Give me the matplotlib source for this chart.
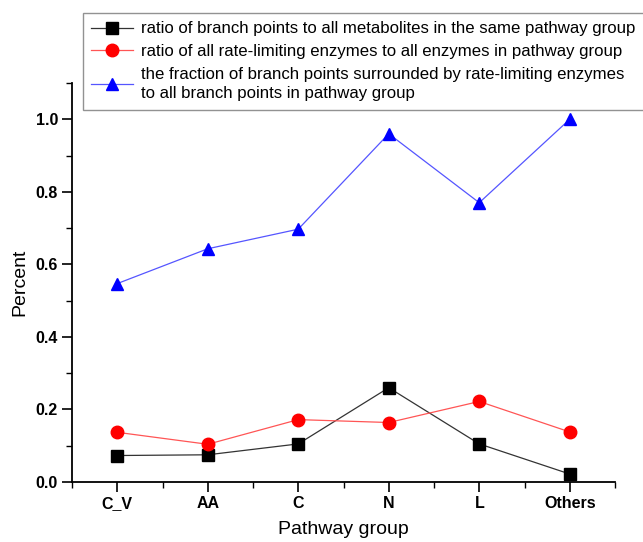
import matplotlib
matplotlib.use("Agg")
import matplotlib.pyplot as plt
from matplotlib.ticker import MultipleLocator

plt.rcParams['font.family'] = ['Liberation Sans', 'DejaVu Sans']

categories = ["C_V", "AA", "C", "N", "L", "Others"]
branch_ratio = [0.073, 0.075, 0.105, 0.260, 0.105, 0.022]
enzyme_ratio = [0.137, 0.104, 0.172, 0.164, 0.222, 0.138]
fraction_surrounded = [0.547, 0.643, 0.697, 0.960, 0.770, 1.000]

labels = [
    "ratio of branch points to all metabolites in the same pathway group",
    "ratio of all rate-limiting enzymes to all enzymes in pathway group",
    "the fraction of branch points surrounded by rate-limiting enzymes\nto all branch points in pathway group",
]

W, H = 643, 542
fig = plt.figure(figsize=(W / 100, H / 100), dpi=100)
ax = fig.add_axes([72 / W, (H - 482) / H, (615 - 72) / W, (482 - 83) / H])

x = list(range(len(categories)))
l1, = ax.plot(x, branch_ratio, color="#333333", lw=0.9, marker="s", ms=8,
              mfc="black", mec="black", label=labels[0])
l2, = ax.plot(x, enzyme_ratio, color="#ff5555", lw=0.9, marker="o", ms=9,
              mfc="red", mec="red", label=labels[1])
l3, = ax.plot(x, fraction_surrounded, color="#5555ff", lw=0.9, marker="^", ms=9,
              mfc="blue", mec="blue", label=labels[2])

ax.set_xlim(-0.5, len(categories) - 0.5)
ax.set_ylim(0, 1.1)
ax.set_xticks(x)
ax.set_xticklabels(categories)
ax.xaxis.set_minor_locator(MultipleLocator(0.5))
ax.yaxis.set_minor_locator(MultipleLocator(0.1))
ax.set_yticks([0.0, 0.2, 0.4, 0.6, 0.8, 1.0])
ax.set_yticklabels(["0.0", "0.2", "0.4", "0.6", "0.8", "1.0"])

for s in ["top", "right"]:
    ax.spines[s].set_visible(False)
for s in ["left", "bottom"]:
    ax.spines[s].set_linewidth(1.3)

ax.tick_params(which="major", direction="out", length=7, width=1.2, labelsize=11.5, pad=3)
ax.tick_params(which="minor", direction="out", length=4, width=1.0)
for lab in ax.get_xticklabels() + ax.get_yticklabels():
    lab.set_fontweight("bold")

ax.set_xlabel("Pathway group", fontsize=14, labelpad=7)
ax.set_ylabel("Percent", fontsize=14, labelpad=5)

leg = fig.legend(handles=[l1, l2, l3], loc="upper left",
                 bbox_to_anchor=(83 / W, 1 - 13 / H), borderaxespad=0,
                 fontsize=12.1, frameon=True, fancybox=False,
                 edgecolor="#777777", handlelength=2.5, handletextpad=0.45,
                 labelspacing=0.45, borderpad=0.5)
for t in leg.get_texts():
    t.set_linespacing(1.4)
leg.get_frame().set_linewidth(1.0)

fig.savefig("out.png", dpi=100)
